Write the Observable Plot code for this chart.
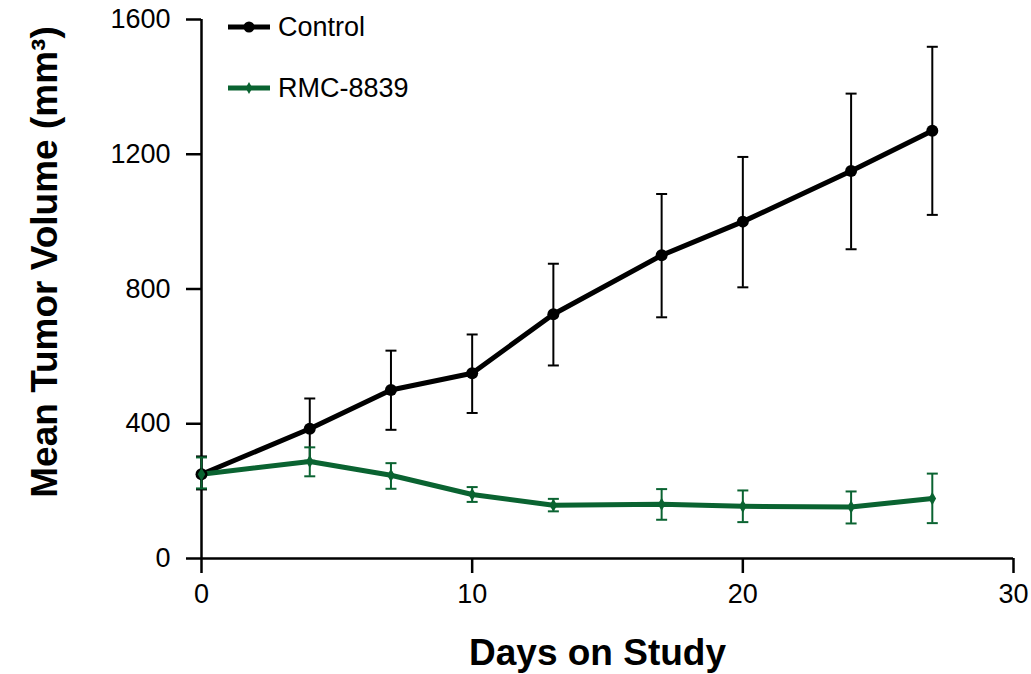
<!DOCTYPE html>
<html>
<head>
<meta charset="utf-8">
<script src="https://cdn.jsdelivr.net/npm/d3@7"></script>
<script src="https://cdn.jsdelivr.net/npm/@observablehq/plot@0.6"></script>
<style>
  body { margin: 0; background: #fff; font-family: "Liberation Sans", Arial, sans-serif; }
  #wrap { position: relative; width: 1031px; height: 674px; overflow: hidden; }
  #legend .item { position: absolute; display: flex; align-items: center; height: 38px; font-size: 27px; color: #000; }
  #legend .item svg { margin-right: 6px; }
</style>
</head>
<body>
<div id="wrap">
  <div id="chart"></div>
  <div id="legend"></div>
</div>
<script>
// ---- data ----
const days = [0, 4, 7, 10, 13, 17, 20, 24, 27];
const seriesNames = ["Control", "RMC-8839"];
const seriesColors = ["#000000", "#0a6331"];

const controlMean = [250, 385, 500, 550, 725, 900, 1000, 1150, 1270];
const controlLow  = [205, 290, 382, 432, 573, 716, 805, 918, 1020];
const controlHigh = [303, 475, 617, 665, 875, 1082, 1192, 1380, 1519];

const rmcMean = [250, 288, 247, 190, 158, 161, 155, 153, 178];
const rmcLow  = [208, 244, 207, 168, 140, 115, 108, 104, 105];
const rmcHigh = [300, 330, 283, 212, 177, 206, 202, 199, 252];

const xTicks = [0, 10, 20, 30];
const yTicks = [0, 400, 800, 1200, 1600];
const xTitle = "Days on Study";
const yTitle = "Mean Tumor Volume (mm³)";

// ---- build table ----
const control = days.map((d, i) => ({group: "Control", day: d, mean: controlMean[i], low: controlLow[i], high: controlHigh[i]}));
const rmc = days.map((d, i) => ({group: "RMC-8839", day: d, mean: rmcMean[i], low: rmcLow[i], high: rmcHigh[i]}));
const data = control.concat(rmc);

// horizontal cap symbol for error bars
const capSymbol = {
  draw(ctx, size) {
    const w = Math.sqrt(size / Math.PI);
    ctx.moveTo(-w, 0);
    ctx.lineTo(w, 0);
  }
};

const chart = Plot.plot({
  width: 1031,
  height: 674,
  marginLeft: 201,
  marginRight: 18,
  marginTop: 19,
  marginBottom: 116,
  style: {fontFamily: "'Liberation Sans', Arial, sans-serif", fontSize: "27px", color: "#000", background: "#fff"},
  x: {domain: [0, 30]},
  y: {domain: [0, 1600]},
  color: {domain: seriesNames, range: seriesColors},
  marks: [
    Plot.axisY({ticks: yTicks, tickFormat: d => String(d), tickSize: 15, tickPadding: 16, strokeWidth: 2.5, label: null}),
    Plot.axisX({ticks: xTicks, tickFormat: d => String(d), tickSize: 15, tickPadding: 10, strokeWidth: 2.5, label: null}),
    Plot.text([xTitle], {frameAnchor: "bottom", dx: -10, dy: 106, fontWeight: "bold", fontSize: 37, textAnchor: "middle", fill: "#000"}),
    Plot.text([yTitle], {frameAnchor: "left", rotate: -90, dx: -156, dy: -27, fontWeight: "bold", fontSize: 37, textAnchor: "middle", fill: "#000"}),
    Plot.ruleY([0], {strokeWidth: 2.5}),
    Plot.ruleX([0], {strokeWidth: 2.5}),
    Plot.ruleX(data, {x: "day", y1: "low", y2: "high", stroke: "group", strokeWidth: 2}),
    Plot.dot(data, {x: "day", y: "low", symbol: capSymbol, r: 5.5, fill: "none", stroke: "group", strokeWidth: 2}),
    Plot.dot(data, {x: "day", y: "high", symbol: capSymbol, r: 5.5, fill: "none", stroke: "group", strokeWidth: 2}),
    Plot.line(data, {x: "day", y: "mean", z: "group", stroke: "group", strokeWidth: 5}),
    Plot.dot(control, {x: "day", y: "mean", r: 6, fill: seriesColors[0], stroke: "none"}),
    Plot.dot(rmc, {x: "day", y: "mean", symbol: "diamond", r: 4, fill: seriesColors[1], stroke: "none"})
  ]
});
document.getElementById("chart").appendChild(chart);

// ---- legend (HTML overlay) ----
const legend = document.getElementById("legend");
const legendTops = [8, 69];
seriesNames.forEach((name, i) => {
  const item = document.createElement("div");
  item.className = "item";
  item.style.left = "226px";
  item.style.top = legendTops[i] + "px";
  const ns = "http://www.w3.org/2000/svg";
  const svg = document.createElementNS(ns, "svg");
  svg.setAttribute("width", 46);
  svg.setAttribute("height", 20);
  const ln = document.createElementNS(ns, "line");
  ln.setAttribute("x1", 2); ln.setAttribute("x2", 44);
  ln.setAttribute("y1", 10); ln.setAttribute("y2", 10);
  ln.setAttribute("stroke", seriesColors[i]);
  ln.setAttribute("stroke-width", 5);
  svg.appendChild(ln);
  if (i === 0) {
    const c = document.createElementNS(ns, "circle");
    c.setAttribute("cx", 23); c.setAttribute("cy", 10); c.setAttribute("r", 5.5);
    c.setAttribute("fill", seriesColors[i]);
    svg.appendChild(c);
  } else {
    const p = document.createElementNS(ns, "path");
    p.setAttribute("d", d3.symbol(d3.symbolDiamond, 40)());
    p.setAttribute("transform", "translate(23,10)");
    p.setAttribute("fill", seriesColors[i]);
    svg.appendChild(p);
  }
  item.appendChild(svg);
  const span = document.createElement("span");
  span.textContent = name;
  item.appendChild(span);
  legend.appendChild(item);
});
</script>
</body>
</html>
